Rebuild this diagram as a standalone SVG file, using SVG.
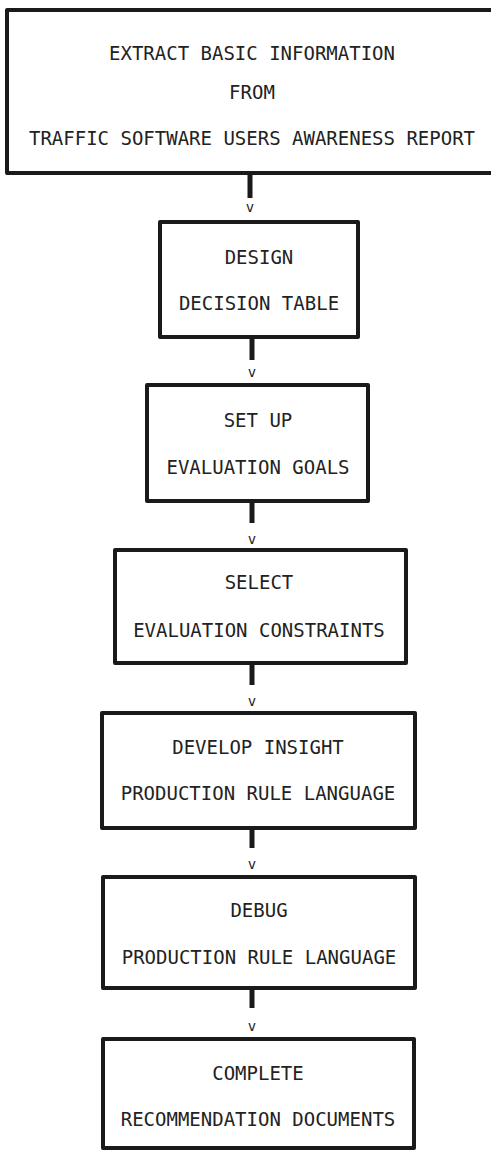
<svg xmlns="http://www.w3.org/2000/svg" width="491" height="1151" viewBox="0 0 491 1151">
<style>
.box{fill:#fff;stroke:#1a1a1a;stroke-width:4;stroke-linejoin:round}
.t{font-family:"DejaVu Sans Mono","Liberation Mono",monospace;font-size:19px;fill:#222;text-anchor:middle}
.v{font-family:"DejaVu Sans Mono","Liberation Mono",monospace;font-size:14px;fill:#222;text-anchor:middle}
.c{stroke:#1a1a1a;stroke-width:5;fill:none}
</style>
<rect width="491" height="1151" fill="#fff"/>
<g id="connectors">
<line class="c" x1="250" y1="173" x2="250" y2="198"/>
<text class="v" x="250" y="212">v</text>
<line class="c" x1="252" y1="337" x2="252" y2="360"/>
<text class="v" x="252" y="377">v</text>
<line class="c" x1="252" y1="501" x2="252" y2="523"/>
<text class="v" x="252" y="544">v</text>
<line class="c" x1="252" y1="663" x2="252" y2="685"/>
<text class="v" x="252" y="706">v</text>
<line class="c" x1="252" y1="828" x2="252" y2="848"/>
<text class="v" x="252" y="869">v</text>
<line class="c" x1="252" y1="988" x2="252" y2="1008"/>
<text class="v" x="252" y="1031">v</text>
</g>
<g id="n1">
<rect class="box" x="7" y="10" width="490" height="163"/>
<text class="t" x="252" y="60">EXTRACT BASIC INFORMATION</text>
<text class="t" x="252" y="99">FROM</text>
<text class="t" x="252" y="145">TRAFFIC SOFTWARE USERS AWARENESS REPORT</text>
</g>
<g id="n2">
<rect class="box" x="160" y="222" width="198" height="115"/>
<text class="t" x="259" y="264">DESIGN</text>
<text class="t" x="259" y="310">DECISION TABLE</text>
</g>
<g id="n3">
<rect class="box" x="147" y="385" width="221" height="116"/>
<text class="t" x="258" y="427">SET UP</text>
<text class="t" x="258" y="474">EVALUATION GOALS</text>
</g>
<g id="n4">
<rect class="box" x="115" y="550" width="291" height="113"/>
<text class="t" x="259" y="589">SELECT</text>
<text class="t" x="259" y="637">EVALUATION CONSTRAINTS</text>
</g>
<g id="n5">
<rect class="box" x="102" y="713" width="313" height="115"/>
<text class="t" x="258" y="754">DEVELOP INSIGHT</text>
<text class="t" x="258" y="800">PRODUCTION RULE LANGUAGE</text>
</g>
<g id="n6">
<rect class="box" x="103" y="877" width="312" height="111"/>
<text class="t" x="259" y="917">DEBUG</text>
<text class="t" x="259" y="964">PRODUCTION RULE LANGUAGE</text>
</g>
<g id="n7">
<rect class="box" x="103" y="1039" width="311" height="109"/>
<text class="t" x="258" y="1080">COMPLETE</text>
<text class="t" x="258" y="1126">RECOMMENDATION DOCUMENTS</text>
</g>
</svg>
